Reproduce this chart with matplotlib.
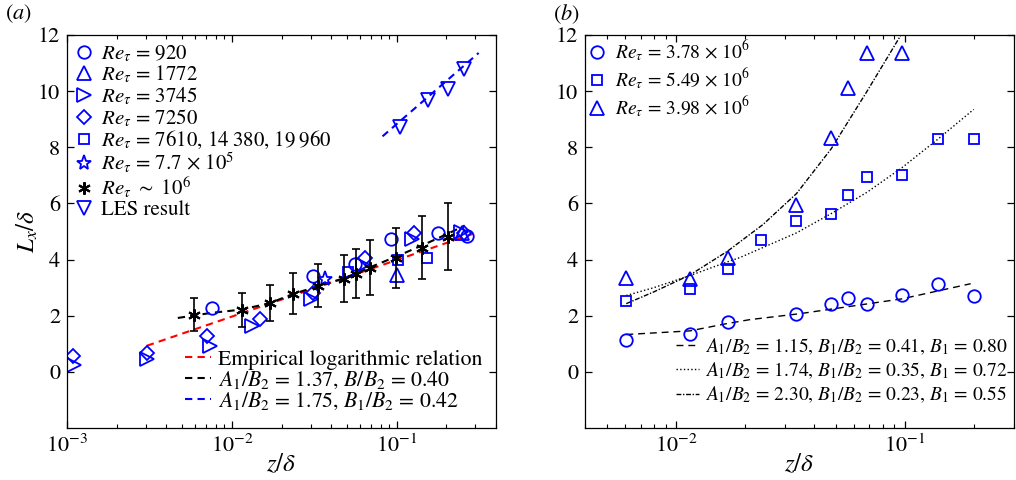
import matplotlib
matplotlib.use("Agg")
import matplotlib.pyplot as plt
from matplotlib.ticker import LogLocator, NullFormatter

plt.rcParams['font.family'] = ['STIXGeneral', 'Liberation Serif', 'DejaVu Serif']
plt.rcParams['mathtext.fontset'] = 'stix'

# ---------- panel (a) data ----------
re920_x = [0.00757, 0.031, 0.0555, 0.092, 0.177, 0.268]
re920_y = [2.29, 3.43, 3.86, 4.75, 4.96, 4.83]
re1772_x = [0.1, 0.25]
re1772_y = [3.46, 4.95]
re3745_x = [0.0011, 0.00305, 0.0074, 0.0132, 0.030, 0.062, 0.123, 0.245]
re3745_y = [0.25, 0.46, 0.93, 1.64, 2.6, 3.8, 4.75, 5.0]
re7250_x = [0.00109, 0.00305, 0.00705, 0.0148, 0.031, 0.064, 0.128, 0.255]
re7250_y = [0.57, 0.68, 1.29, 1.9, 2.8, 4.04, 4.96, 4.93]
re7610_x = [0.0505, 0.102, 0.152]
re7610_y = [3.57, 4.0, 4.04]
re77e5_x = [0.0366]
re77e5_y = [3.32]
re1e6_x = [0.00589, 0.0115, 0.0170, 0.0234, 0.0332, 0.0478, 0.0565, 0.0686, 0.0986, 0.142, 0.204]
re1e6_y = [2.04, 2.21, 2.46, 2.79, 3.07, 3.32, 3.50, 3.71, 4.07, 4.43, 4.82]
re1e6_err = [0.60, 0.61, 0.65, 0.72, 0.76, 0.84, 0.87, 0.98, 1.07, 1.11, 1.20]
les_x = [0.104, 0.154, 0.204, 0.255]
les_y = [8.72, 9.68, 10.08, 10.8]

emp_x = [0.00305, 0.305]
emp_y = [0.93, 4.96]
fit1_x = [0.0047, 0.0075, 0.0115, 0.017, 0.0234, 0.0332, 0.0478, 0.0686, 0.0986, 0.142, 0.204, 0.258]
fit1_y = [1.92, 2.1, 2.22, 2.45, 2.77, 3.05, 3.33, 3.72, 4.1, 4.5, 4.92, 5.21]
fit_les_x = [0.082, 0.314]
fit_les_y = [8.39, 11.36]

# ---------- panel (b) data ----------
c378_x = [0.00606, 0.0115, 0.0168, 0.0336, 0.0477, 0.0565, 0.0684, 0.097, 0.139, 0.2]
c378_y = [1.14, 1.36, 1.79, 2.07, 2.43, 2.64, 2.43, 2.75, 3.14, 2.71]
s549_x = [0.00606, 0.0115, 0.0168, 0.0234, 0.0336, 0.0477, 0.0565, 0.0684, 0.097, 0.139, 0.2]
s549_y = [2.54, 2.96, 3.68, 4.68, 5.39, 5.64, 6.29, 6.93, 7.0, 8.28, 8.28]
t398_x = [0.00606, 0.0115, 0.0168, 0.0336, 0.0477, 0.0565, 0.0684, 0.097]
t398_y = [3.36, 3.32, 4.07, 5.93, 8.32, 10.1, 11.36, 11.36]

fc_x = [0.00606, 0.0115, 0.0167, 0.021, 0.0346, 0.097, 0.194]
fc_y = [1.33, 1.46, 1.72, 1.86, 2.07, 2.6, 3.14]
fs_x = [0.00606, 0.008, 0.0115, 0.0168, 0.019, 0.0336, 0.0477, 0.0684, 0.097, 0.139, 0.2]
fs_y = [2.72, 3.0, 3.43, 3.92, 4.07, 4.95, 5.64, 6.4, 7.27, 8.28, 9.35]
ft_x = [0.00606, 0.008, 0.0115, 0.0168, 0.024, 0.0336, 0.0477, 0.0684, 0.097]
ft_y = [2.43, 2.85, 3.45, 4.3, 5.25, 6.35, 7.95, 10.0, 12.05]

blue = '#0000ff'

fig = plt.figure(figsize=(10.16, 4.8), dpi=100)
ax1 = fig.add_axes([67/1016, 1-428/480, (496-67)/1016, (428-35)/480])
ax2 = fig.add_axes([585/1016, 1-428/480, (1014-585)/1016, (428-35)/480])

mk = dict(ls='none', mfc='none', mec=blue, mew=1.3)

# panel (a)
l_emp, = ax1.plot(emp_x, emp_y, color='red', lw=1.5, dashes=(3.5, 2.5))
l_fit1, = ax1.plot(fit1_x, fit1_y, color='black', lw=1.5, dashes=(3.5, 2.5))
l_les, = ax1.plot(fit_les_x, fit_les_y, color=blue, lw=1.5, dashes=(3.5, 2.5))
h920, = ax1.plot(re920_x, re920_y, marker='o', ms=9, **mk)
h1772, = ax1.plot(re1772_x, re1772_y, marker='^', ms=9.5, **mk)
h3745, = ax1.plot(re3745_x, re3745_y, marker='>', ms=9.5, **mk)
h7250, = ax1.plot(re7250_x, re7250_y, marker='D', ms=7.5, **mk)
h7610, = ax1.plot(re7610_x, re7610_y, marker='s', ms=7.5, **mk)
h77, = ax1.plot(re77e5_x, re77e5_y, marker='*', ms=11, **mk)
ax1.errorbar(re1e6_x, re1e6_y, yerr=re1e6_err, fmt='none', ecolor='black', elinewidth=1.2, capsize=2.6, capthick=1.2)
h1e6, = ax1.plot(re1e6_x, re1e6_y, ls='none', marker=(6, 2, 0), ms=9, mec='black', mew=1.5)
hles, = ax1.plot(les_x, les_y, marker='v', ms=9.5, **mk)

ax1.set_xscale('log')
ax1.set_xlim(1e-3, 0.4)
ax1.set_ylim(-2, 12)
ax1.set_yticks([0, 2, 4, 6, 8, 10, 12])

leg1 = ax1.legend([h920, h1772, h3745, h7250, h7610, h77, h1e6, hles],
                  [r'$Re_\tau$ = 920', r'$Re_\tau$ = 1772', r'$Re_\tau$ = 3745', r'$Re_\tau$ = 7250',
                   r'$Re_\tau$ = 7610, 14$\;$380, 19$\;$960', r'$Re_\tau$ = 7.7 $\times$ 10$^5$',
                   r'$Re_\tau$ $\sim$ 10$^6$', 'LES result'],
                  loc='upper left', frameon=False, fontsize=15, handlelength=0.8,
                  handletextpad=0.45, labelspacing=0.0, borderaxespad=0.1, borderpad=0.3)
ax1.add_artist(leg1)
ax1.legend([l_emp, l_fit1, l_les],
           ['Empirical logarithmic relation', r'$A_1/B_2$ = 1.37, $B/B_2$ = 0.40',
            r'$A_1/B_2$ = 1.75, $B_1/B_2$ = 0.42'],
           loc='lower right', bbox_to_anchor=(0.9825, 0.024), frameon=False, fontsize=15.7,
           handlelength=1.2, handletextpad=0.3, labelspacing=0.0, borderaxespad=0.0, borderpad=0.3)

# panel (b)
l_c, = ax2.plot(fc_x, fc_y, color='black', lw=1.0, dashes=(5, 3.5))
l_s, = ax2.plot(fs_x, fs_y, color='black', lw=1.0, ls=':')
l_t, = ax2.plot(ft_x, ft_y, color='black', lw=1.0, dashes=(3.5, 1.2, 1, 1.2))
hc, = ax2.plot(c378_x, c378_y, marker='o', ms=9, **mk)
hs, = ax2.plot(s549_x, s549_y, marker='s', ms=7.5, **mk)
ht, = ax2.plot(t398_x, t398_y, marker='^', ms=10, **mk)

ax2.set_xscale('log')
ax2.set_xlim(0.004, 0.3)
ax2.set_ylim(-2, 12)
ax2.set_yticks([0, 2, 4, 6, 8, 10, 12])

leg2 = ax2.legend([hc, hs, ht],
                  [r'$Re_\tau$ = 3.78 $\times$ 10$^6$', r'$Re_\tau$ = 5.49 $\times$ 10$^6$',
                   r'$Re_\tau$ = 3.98 $\times$ 10$^6$'],
                  loc='upper left', frameon=False, fontsize=14, handlelength=0.9,
                  handletextpad=0.45, labelspacing=0.15, borderaxespad=0.1, borderpad=0.08)
ax2.add_artist(leg2)
ax2.legend([l_c, l_s, l_t],
           [r'$A_1/B_2$ = 1.15, $B_1/B_2$ = 0.41, $B_1$ = 0.80',
            r'$A_1/B_2$ = 1.74, $B_1/B_2$ = 0.35, $B_1$ = 0.72',
            r'$A_1/B_2$ = 2.30, $B_1/B_2$ = 0.23, $B_1$ = 0.55'],
           loc='lower right', bbox_to_anchor=(1.0, 0.043), frameon=False, fontsize=14,
           handlelength=1.2, handletextpad=0.3, labelspacing=0.2, borderaxespad=0.0, borderpad=0.3)

for ax in [ax1, ax2]:
    ax.xaxis.set_major_locator(LogLocator(base=10, numticks=10))
    ax.xaxis.set_minor_locator(LogLocator(base=10, subs=range(2, 10), numticks=20))
    ax.xaxis.set_minor_formatter(NullFormatter())
    ax.tick_params(which='both', direction='in', top=True, right=True, labelsize=16, pad=5)
    ax.tick_params(which='major', length=5, width=0.9)
    ax.tick_params(which='minor', length=3, width=0.8)
    ax.set_xlabel(r'$z/\delta$', fontsize=18, va='center')
    ax.xaxis.set_label_coords(0.5, -0.094)
    for s in ax.spines.values():
        s.set_linewidth(0.9)

ax1.set_ylabel(r'$L_x/\delta$', fontsize=18, va='center')
ax1.yaxis.set_label_coords(-0.091, 0.5)
fig.text(5/1016, 1-14/480, r'($a$)', fontsize=16, va='center')
fig.text(553/1016, 1-14/480, r'($b$)', fontsize=16, va='center')

fig.savefig('out.png', dpi=100)
